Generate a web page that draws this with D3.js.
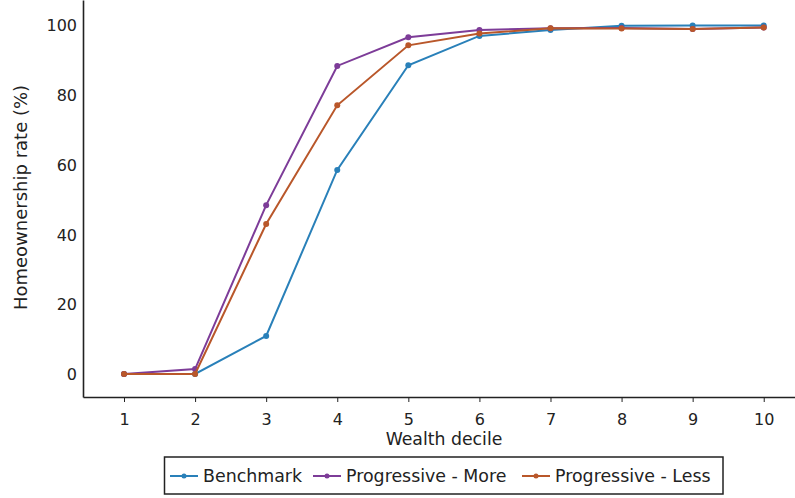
<!DOCTYPE html>
<html><head><meta charset="utf-8">
<script src="https://cdn.jsdelivr.net/npm/d3@7"></script>
<style>body{margin:0;background:#fff;}svg{display:block;font-family:"DejaVu Sans",Verdana,sans-serif;}</style>
</head><body><div id="chart"></div>
<script>
const deciles = [1,2,3,4,5,6,7,8,9,10];
const benchmark = [0, 0, 10.9, 58.5, 88.5, 96.9, 98.6, 99.8, 99.9, 99.9];
const progressiveMore = [0, 1.4, 48.4, 88.3, 96.5, 98.6, 99.1, 99.2, 98.9, 99.3];
const progressiveLess = [0, 0, 43.0, 77.0, 94.2, 97.6, 99.1, 99.0, 98.9, 99.3];
const yTicks = [0,20,40,60,80,100];
const seriesNames = ["Benchmark","Progressive - More","Progressive - Less"];
const colors = ["#2980b9","#7d3c98","#b9572a"];

(function(){
const W=795,H=498;
const svg=d3.select("#chart").append("svg").attr("width",W).attr("height",H);
const pL=83, pR=795, pT=0, pB=397;
const x=d3.scaleLinear().domain([0.423,10.44]).range([pL,pR]);
const y=d3.scaleLinear().domain([-6.6,107.2]).range([pB,pT]);

const series=[benchmark,progressiveMore,progressiveLess];

const xAxis=svg.append("g").attr("transform",`translate(0,${pB})`)
  .call(d3.axisBottom(x).tickValues(deciles).tickFormat(d3.format("d")).tickSize(5).tickSizeOuter(0));
const yAxis=svg.append("g").attr("transform",`translate(${pL},0)`)
  .call(d3.axisLeft(y).tickValues(yTicks).tickSize(0).tickPadding(6).tickSizeOuter(0));
[xAxis,yAxis].forEach(g=>{
  g.selectAll("text").attr("font-size",16).attr("fill","#222").attr("font-family","DejaVu Sans, Verdana, sans-serif");
  g.select(".domain").attr("stroke","#222").attr("stroke-width",1.6);
  g.selectAll(".tick line").attr("stroke","#222");
});
xAxis.selectAll("text").attr("dy",19.5);
yAxis.selectAll("text").attr("dy","0.36em");

svg.append("text").attr("x",444).attr("y",445).attr("text-anchor","middle")
  .attr("font-size",17.3).attr("fill","#222").text("Wealth decile");
svg.append("text").attr("transform",`translate(27,197.5) rotate(-90)`)
  .attr("text-anchor","middle").attr("font-size",18).attr("fill","#222").text("Homeownership rate (%)");

const line=d3.line().x((d,i)=>x(deciles[i])).y(d=>y(d));
series.forEach((s,k)=>{
  svg.append("path").datum(s).attr("d",line).attr("fill","none")
    .attr("stroke",colors[k]).attr("stroke-width",2);
  svg.selectAll(null).data(s).enter().append("circle")
    .attr("cx",(d,i)=>x(deciles[i])).attr("cy",d=>y(d)).attr("r",3).attr("fill",colors[k]);
});

const lg=svg.append("g");
lg.append("rect").attr("x",164.5).attr("y",457).attr("width",558.5).attr("height",37)
  .attr("fill","#fff").attr("stroke","#222").attr("stroke-width",1.5);
const lx=[170,313,522];
seriesNames.forEach((n,k)=>{
  lg.append("line").attr("x1",lx[k]).attr("x2",lx[k]+28).attr("y1",476).attr("y2",476)
    .attr("stroke",colors[k]).attr("stroke-width",2);
  lg.append("circle").attr("cx",lx[k]+14).attr("cy",476).attr("r",2.5).attr("fill",colors[k]);
  lg.append("text").attr("x",lx[k]+33).attr("y",476).attr("dy","0.36em")
    .attr("font-size",17.4).attr("fill","#222").text(n);
});
})();
</script></body></html>
